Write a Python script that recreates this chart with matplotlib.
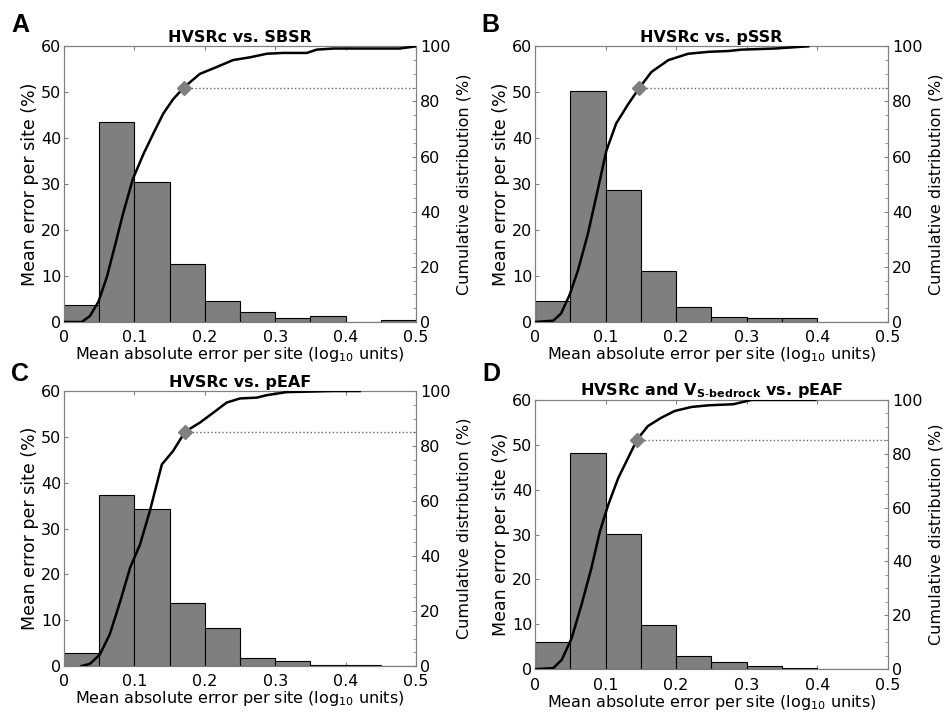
import numpy as np
import matplotlib.pyplot as plt
from matplotlib.ticker import MultipleLocator

# bin edges shared by all four histograms (log10 units)
bin_edges = [0, 0.05, 0.1, 0.15, 0.2, 0.25, 0.3, 0.35, 0.4, 0.45, 0.5]

# bar heights (% of sites)
hist_a = [3.7, 43.5, 30.4, 12.6, 4.6, 2.1, 0.9, 1.4, 0.0, 0.4]
hist_b = [4.6, 50.2, 28.8, 11.2, 3.2, 1.1, 0.8, 0.9, 0.0, 0.0]
hist_c = [2.8, 37.3, 34.3, 13.8, 8.2, 1.8, 1.2, 0.2, 0.2, 0.0]
hist_d = [6.0, 48.2, 30.2, 9.9, 3.0, 1.7, 0.8, 0.2, 0.0, 0.0]

# cumulative distribution curves (x, %)
cdf_a_x = [0, 0.025, 0.037, 0.049, 0.061, 0.072, 0.084, 0.098, 0.113, 0.127, 0.141, 0.155,
           0.170, 0.193, 0.217, 0.240, 0.264, 0.288, 0.311, 0.345, 0.359, 0.383, 0.477, 0.5]
cdf_a_y = [0, 0, 2.2, 7.4, 16.4, 27.3, 39.4, 52, 61, 68.4, 75.6, 80.8,
           85, 90, 92.5, 95, 96, 97.3, 97.6, 97.6, 98.8, 99.2, 99.2, 100]
cdf_b_x = [0, 0.026, 0.037, 0.049, 0.061, 0.075, 0.089, 0.101, 0.115, 0.132, 0.148, 0.165,
           0.189, 0.217, 0.246, 0.274, 0.293, 0.340, 0.387]
cdf_b_y = [0, 0.5, 3.1, 9.8, 18.8, 32, 48, 62, 72, 79, 85, 90.7,
           95, 97.3, 98, 98.3, 98.8, 99.2, 100]
cdf_c_x = [0.025, 0.037, 0.051, 0.065, 0.080, 0.094, 0.108, 0.122, 0.139, 0.155, 0.172,
           0.193, 0.212, 0.231, 0.250, 0.274, 0.288, 0.316, 0.383, 0.42]
cdf_c_y = [0, 0.8, 4.2, 11.5, 23.6, 35.8, 44.2, 56.4, 73.3, 78.2, 85.2,
           88.5, 92.1, 95.8, 97.3, 97.6, 98.5, 99.6, 100, 100]
cdf_d_x = [0, 0.026, 0.038, 0.052, 0.066, 0.080, 0.092, 0.104, 0.118, 0.132, 0.145, 0.160,
           0.179, 0.198, 0.222, 0.246, 0.281, 0.307, 0.397]
cdf_d_y = [0, 0.4, 3.5, 11.5, 24, 37.6, 51.2, 61.2, 71, 78.5, 85.4, 90.3,
           93.4, 95.9, 97.4, 98, 98.4, 100, 100]

# 85th percentile markers
p85_x = [0.170, 0.148, 0.172, 0.145]
p85_y = 85

titles = ['HVSRc vs. SBSR', 'HVSRc vs. pSSR', 'HVSRc vs. pEAF',
          r'HVSRc and V$_{\mathbf{S\text{-}bedrock}}$ vs. pEAF']
letters = ['A', 'B', 'C', 'D']

plt.rcParams['font.family'] = 'DejaVu Sans'
plt.rcParams['mathtext.fontset'] = 'dejavusans'

fig = plt.figure(figsize=(9.49, 7.18), dpi=100)

# axes rectangles (figure fractions)
rects = [[0.0674, 0.5515, 0.371, 0.384],
         [0.5637, 0.5515, 0.372, 0.384],
         [0.0674, 0.0724, 0.371, 0.383],
         [0.5637, 0.068, 0.372, 0.375]]
letter_pos = [(0.012, 0.955), (0.507, 0.955), (0.012, 0.469), (0.508, 0.469)]

hists = [hist_a, hist_b, hist_c, hist_d]
cdfs = [(cdf_a_x, cdf_a_y), (cdf_b_x, cdf_b_y), (cdf_c_x, cdf_c_y), (cdf_d_x, cdf_d_y)]
spine_col = '#808080'
fs = 11.5

for i in range(4):
    ax = fig.add_axes(rects[i])
    ax.bar(bin_edges[:-1], hists[i], width=0.05, align='edge',
           color='#7f7f7f', edgecolor='black', linewidth=0.8, zorder=2)
    ax.set_xlim(0, 0.5)
    ax.set_ylim(0, 60)
    ax.set_xticks([0, 0.1, 0.2, 0.3, 0.4, 0.5])
    ax.set_xticklabels(['0', '0.1', '0.2', '0.3', '0.4', '0.5'])
    ax.set_yticks(range(0, 61, 10))
    ax.tick_params(direction='in', top=True, labelsize=fs, length=3,
                   color=spine_col, pad=2)
    ax.tick_params(axis='x', pad=6)
    for s in ax.spines.values():
        s.set_color(spine_col)
    ax.set_xlabel(r'Mean absolute error per site (log$_{10}$ units)', fontsize=fs, labelpad=0)
    ax.set_ylabel('Mean error per site (%)', fontsize=12.5, labelpad=1)
    ax.set_title(titles[i], fontsize=11.5, fontweight='bold', pad=3)

    ax2 = ax.twinx()
    ax2.set_ylim(0, 100)
    ax2.set_yticks(range(0, 101, 20))
    ax2.yaxis.set_minor_locator(MultipleLocator(5))
    ax2.tick_params(which='both', direction='in', labelsize=fs, color=spine_col, pad=3)
    ax2.tick_params(which='major', length=3)
    ax2.tick_params(which='minor', length=2)
    for s in ax2.spines.values():
        s.set_color(spine_col)
    ax2.set_ylabel('Cumulative distribution (%)', fontsize=fs, labelpad=4)
    cx, cy = cdfs[i]
    ax2.plot([p85_x[i], 0.5], [p85_y, p85_y], ls=':', color='#666666', lw=1.0, zorder=3)
    ax2.plot(cx, cy, color='black', lw=1.8, zorder=4)
    ax2.plot([p85_x[i]], [p85_y], marker='D', color='#808080', ms=7, zorder=5, clip_on=False)

    fig.text(letter_pos[i][0], letter_pos[i][1], letters[i], fontsize=18,
             fontweight='bold', family='Liberation Sans')

fig.savefig('out.png', dpi=100)
